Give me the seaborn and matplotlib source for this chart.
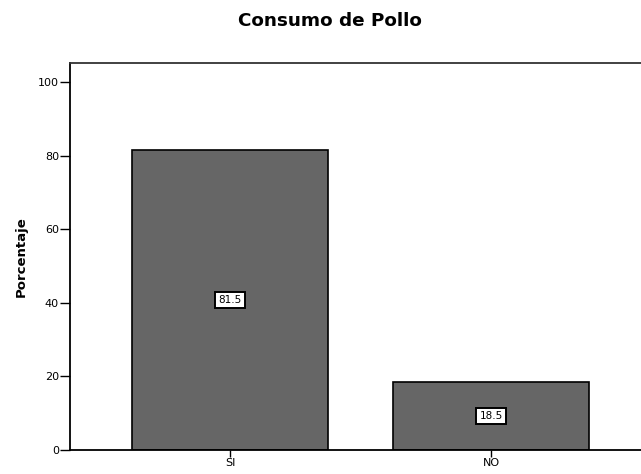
import matplotlib
matplotlib.use("Agg")
import matplotlib.pyplot as plt
import seaborn as sns
import pandas as pd

categories = ["SI", "NO"]
values = [81.5, 18.5]
yticks = [0, 20, 40, 60, 80, 100]

sns.set_style("white")
plt.rcParams['font.family'] = ['DejaVu Sans']
plt.rcParams['text.color'] = 'black'
plt.rcParams['axes.labelcolor'] = 'black'

df = pd.DataFrame({"cat": categories, "val": values})

fig = plt.figure(figsize=(6.41, 4.74), dpi=100)
ax = fig.add_axes([70/641, 24/474, 1 - 70/641, (450-63)/474])

sns.barplot(data=df, x="cat", y="val", order=categories, color="#666666",
            saturation=1, width=0.75, edgecolor="black", linewidth=1.2, ax=ax)

for i, v in enumerate(values):
    ax.text(i, v / 2, f"{v:.1f}", ha="center", va="center", fontsize=7.5,
            color="black",
            bbox=dict(boxstyle="square,pad=0.3", facecolor="white", edgecolor="black", linewidth=1.4))

ax.set_xlim(-0.613, 1.575)
ax.set_ylim(0, 105.2)
ax.set_yticks(yticks)
ax.set_xlabel("")
ax.set_ylabel("Porcentaje", fontsize=9.5, fontweight="bold", labelpad=7, color="black")
ax.tick_params(axis="y", direction="out", length=7, width=1, labelsize=8, pad=1,
               left=True, colors="black")
ax.tick_params(axis="x", direction="out", length=5, width=1, labelsize=8, pad=1,
               bottom=True, colors="black")
for s in ["left", "bottom", "top"]:
    ax.spines[s].set_visible(True)
    ax.spines[s].set_color("black")
    ax.spines[s].set_linewidth(1.3)
ax.spines["right"].set_visible(False)
ax.spines["top"].set_color("#333333")

fig.text(330/641, 1 - 21/474, "Consumo de Pollo", ha="center", va="center",
         fontsize=13.2, fontweight="bold", color="black")

fig.savefig("out.png", dpi=100)
